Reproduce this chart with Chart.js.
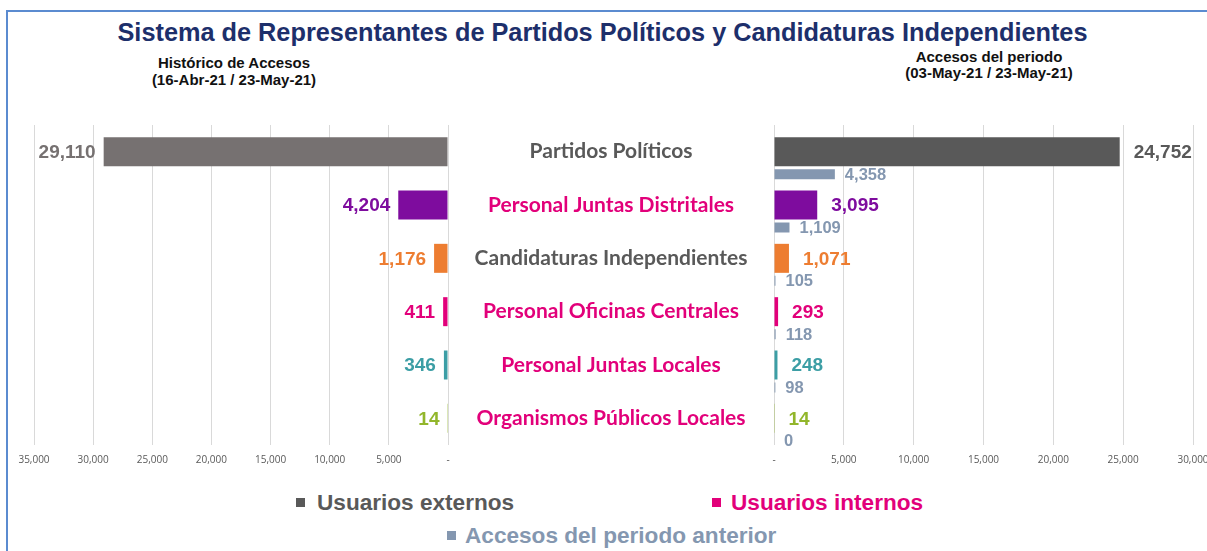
<!DOCTYPE html>
<html><head><meta charset="utf-8">
<script src="https://cdn.jsdelivr.net/npm/chart.js@4.4.1/dist/chart.umd.min.js"></script>
<style>
html,body{margin:0;padding:0;width:1207px;height:551px;overflow:hidden;background:#fff;}
#frame{position:absolute;left:6px;top:10px;width:1300px;height:700px;border-left:2px solid #5b8bd0;border-top:2px solid #5b8bd0;}
.t{position:absolute;font-family:"Liberation Sans",Arial,sans-serif;font-weight:bold;white-space:nowrap;}
#title{left:0;width:1205px;text-align:center;top:19px;font-size:25.3px;line-height:26px;color:#1d2f6b;}
.sub{font-size:15px;color:#111;text-align:center;width:300px;}
.leg{font-size:22.6px;line-height:24px;}
.sq{position:absolute;width:9px;height:9px;}
canvas{position:absolute;top:0;}
</style>
</head><body>
<div id="frame"></div>
<div class="t" id="title">Sistema de Representantes de Partidos Políticos y Candidaturas Independientes</div>
<div class="t sub" style="left:84px;top:54px;line-height:17px;">Histórico de Accesos<br>(16-Abr-21 / 23-May-21)</div>
<div class="t sub" style="left:839px;top:49px;line-height:16px;">Accesos del periodo<br>(03-May-21 / 23-May-21)</div>
<canvas id="left" width="774" height="480" style="left:0;width:774px;height:480px;"></canvas>
<canvas id="right" width="480" height="480" style="left:754px;width:480px;height:480px;"></canvas>
<div class="sq" style="left:296px;top:498px;background:#595959"></div>
<div class="t leg" style="left:317px;top:491px;color:#595959">Usuarios externos</div>
<div class="sq" style="left:712px;top:498px;background:#e2007a"></div>
<div class="t leg" style="left:731px;top:491px;color:#e2007a">Usuarios internos</div>
<div class="sq" style="left:447px;top:531px;background:#8497b0"></div>
<div class="t leg" style="left:465px;top:524px;color:#8497b0">Accesos del periodo anterior</div>
<script>
// ---- data ----
const categories = ['Partidos Políticos','Personal Juntas Distritales','Candidaturas Independientes','Personal Oficinas Centrales','Personal Juntas Locales','Organismos Públicos Locales'];
const historico = [29110, 4204, 1176, 411, 346, 14];
const periodo = [24752, 3095, 1071, 293, 248, 14];
const anterior = [4358, 1109, 105, 118, 98, 0];
const leftMax = 35000;
const rightMax = 30000;
const tickStep = 5000;

// ---- styles ----
const leftColors = ['#767171','#7e0c9e','#ed7d31','#e2007a','#3c9ea5','#92b62b'];
const rightColors = ['#595959','#7e0c9e','#ed7d31','#e2007a','#3c9ea5','#92b62b'];
const catColors = ['#595959','#e2007a','#595959','#e2007a','#e2007a','#e2007a'];
const priorColor = '#8497b0';
const gridColor = '#d9d9d9';
const tickFont = {family:'"Open Sans"', size:10};
const catFont = {family:'Lato', size:21, weight:'bold'};
const ARIAL = '"Liberation Sans", Arial, sans-serif';

const fmt = v => v === 0 ? '-' : v.toLocaleString('en-US');
const fmtLabel = v => v.toLocaleString('en-US');

const valueLabels = {
  id: 'valueLabels',
  afterDatasetsDraw(chart) {
    const ctx = chart.ctx;
    chart.data.datasets.forEach((ds, di) => {
      const st = ds.labelStyle;
      if (!st) return;
      const meta = chart.getDatasetMeta(di);
      meta.data.forEach((bar, i) => {
        const v = ds.data[i];
        if (v === null || v === undefined) return;
        ctx.save();
        ctx.font = st.font;
        ctx.fillStyle = Array.isArray(st.color) ? st.color[i] : st.color;
        ctx.textBaseline = 'middle';
        let x;
        if (st.side === 'left') { ctx.textAlign = 'right'; x = Math.min(bar.x, bar.base) - st.gap; }
        else { ctx.textAlign = 'left'; x = Math.max(bar.x, bar.base) + st.gap; }
        ctx.fillText(fmtLabel(v), x, bar.y + 1);
        ctx.restore();
      });
    });
  }
};

// measure widest category label to centre labels in the middle band
const BAND = 326;
const mctx = document.createElement('canvas').getContext('2d');
mctx.font = 'bold 21px Lato';
const widest = Math.max(...categories.map(c => mctx.measureText(c).width));
const catPad = Math.max(0, (BAND - widest) / 2);

const xAxisCommon = {
  type: 'linear', min: 0,
  grid: {color: gridColor, drawTicks: false, lineWidth: 1},
  border: {display: false},
  ticks: {stepSize: tickStep, color: '#595959', font: tickFont, padding: 9, callback: v => fmt(v), maxRotation: 0, autoSkip: false},
  afterFit: s => { s.height = 35; }
};

new Chart(document.getElementById('left'), {
  type: 'bar',
  data: {
    labels: categories,
    datasets: [{
      data: historico,
      backgroundColor: leftColors,
      categoryPercentage: 1,
      barPercentage: 29 / 53.33,
      labelStyle: {side: 'left', gap: 8, font: 'bold 19px ' + ARIAL, color: leftColors}
    }]
  },
  options: {
    indexAxis: 'y', responsive: false, animation: false, devicePixelRatio: 1,
    layout: {padding: {left: 34, right: 0, top: 125, bottom: 0}},
    plugins: {legend: {display: false}, tooltip: {enabled: false}},
    scales: {
      x: Object.assign({}, xAxisCommon, {max: leftMax, reverse: true}),
      y: {
        position: 'right',
        grid: {display: false, drawTicks: false},
        border: {display: false},
        ticks: {color: catColors, font: catFont, crossAlign: 'center', padding: catPad, autoSkip: false},
        afterFit: s => { s.width = BAND; s.paddingTop = 0; s.paddingBottom = 0; }
      }
    }
  },
  plugins: [valueLabels]
});

new Chart(document.getElementById('right'), {
  type: 'bar',
  data: {
    labels: categories,
    datasets: [
      {data: categories.map(() => null), backgroundColor: 'rgba(0,0,0,0)', categoryPercentage: 67.5 / 53.33, barPercentage: 1},
      {data: periodo, backgroundColor: rightColors, categoryPercentage: 67.5 / 53.33, barPercentage: 29 / 22.5,
       labelStyle: {side: 'right', gap: 14, font: 'bold 19px ' + ARIAL, color: rightColors}},
      {data: anterior, backgroundColor: priorColor, categoryPercentage: 67.5 / 53.33, barPercentage: 10 / 22.5,
       labelStyle: {side: 'right', gap: 10, font: 'bold 16.5px ' + ARIAL, color: priorColor}}
    ]
  },
  options: {
    indexAxis: 'y', responsive: false, animation: false, devicePixelRatio: 1,
    layout: {padding: {left: 20, right: 41, top: 125, bottom: 0}},
    plugins: {legend: {display: false}, tooltip: {enabled: false}},
    scales: {
      x: Object.assign({}, xAxisCommon, {max: rightMax}),
      y: {display: false}
    }
  },
  plugins: [valueLabels]
});
</script>
</body></html>
